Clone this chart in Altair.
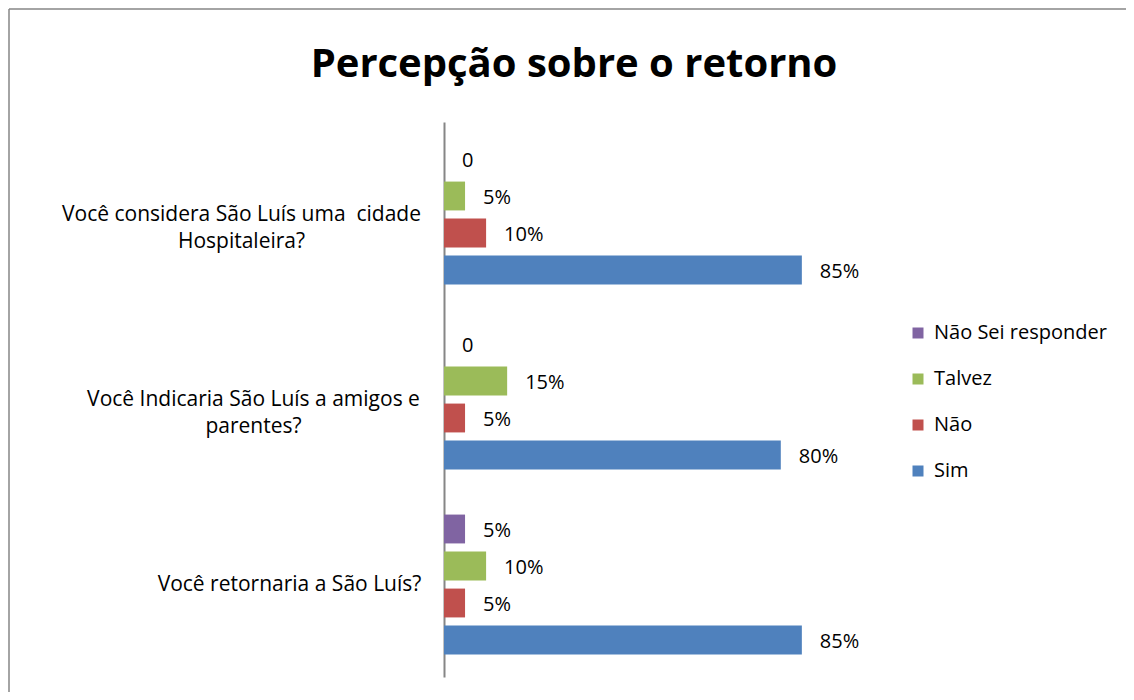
import altair as alt
import pandas as pd

questions = [
    "Você considera São Luís uma \u00a0cidade\nHospitaleira?",
    "Você Indicaria São Luís a amigos e\nparentes?",
    "Você retornaria a São Luís?",
]
series = ["Não Sei responder", "Talvez", "Não", "Sim"]
colors = ["#8064A2", "#9BBB59", "#C0504D", "#4F81BD"]
values = {
    "Não Sei responder": [0, 0, 5],
    "Talvez": [5, 15, 10],
    "Não": [10, 5, 5],
    "Sim": [85, 80, 85],
}
title_text = "Percepção sobre o retorno"

rows = []
for s in series:
    for q, v in zip(questions, values[s]):
        rows.append({"q": q, "s": s, "v": v, "lab": "0" if v == 0 else f"{v}%"})
df = pd.DataFrame(rows)

FONT = "Open Sans"


def test_for(q):
    return "datum.value === " + repr(q).replace("\n", "\\n")


y_enc = alt.Y(
    "q:N",
    sort=questions,
    scale=alt.Scale(paddingInner=0, paddingOuter=0),
    title=None,
    axis=alt.Axis(
        labelExpr="split(datum.label, '\\n')",
        labelAlign="center",
        labelBaseline="middle",
        labelLineHeight=27,
        labelFont=FONT,
        labelFontSize=21,
        labelColor="#000000",
        labelLimit=1000,
        ticks=False,
        tickSize=0,
        domainColor="#868686",
        domainWidth=2,
        labelPadding={
            "condition": [
                {"test": test_for(questions[0]), "value": 203},
                {"test": test_for(questions[1]), "value": 191},
            ],
            "value": 155,
        },
    ),
)
yoff = alt.YOffset("s:N", sort=series, scale=alt.Scale(paddingInner=0.22, paddingOuter=0.61))
x_enc = alt.X("v:Q", scale=alt.Scale(domain=[0, 100]), axis=None)

bars = alt.Chart(df).mark_bar().encode(
    x=x_enc,
    y=y_enc,
    yOffset=yoff,
    color=alt.Color(
        "s:N",
        sort=series,
        scale=alt.Scale(domain=series, range=colors),
        legend=alt.Legend(
            title=None,
            orient="none",
            legendX=464,
            legendY=201,
            symbolType="square",
            symbolSize=121,
            symbolStrokeWidth=0,
            labelFont=FONT,
            labelFontSize=20,
            labelColor="#000000",
            rowPadding=26,
            labelOffset=6,
            labelLimit=400,
        ),
    ),
)

texts = alt.Chart(df).mark_text(
    align="left", baseline="middle", dx=18, dy=2, font=FONT, fontSize=20, color="#000000"
).encode(x=x_enc, y=alt.Y("q:N", sort=questions), yOffset=yoff, text="lab:N")

frame_data = alt.Data(values=[{}])
border_top = alt.Chart(frame_data).mark_rule(stroke="#868686", strokeWidth=1.5).encode(
    x=alt.value(-435), x2=alt.value(700), y=alt.value(-113)
)
border_left = alt.Chart(frame_data).mark_rule(stroke="#868686", strokeWidth=1.5).encode(
    x=alt.value(-435), y=alt.value(-113), y2=alt.value(600)
)

title = alt.Chart(alt.Data(values=[{"t": title_text}])).mark_text(
    align="center", baseline="alphabetic", font=FONT, fontSize=40, fontWeight="bold", color="#000000"
).encode(x=alt.value(130), y=alt.value(-45), text="t:N")

chart = (
    alt.layer(border_top, border_left, title, bars, texts)
    .properties(
        width=421,
        height=555,
        background="white",
        autosize=alt.AutoSizeParams(type="none"),
        padding={"left": 436, "top": 114, "right": 261, "bottom": 15},
    )
    .configure_view(strokeWidth=0, stroke="transparent")
)

chart.save("out.html", embed_options={"renderer": "svg", "actions": False})
